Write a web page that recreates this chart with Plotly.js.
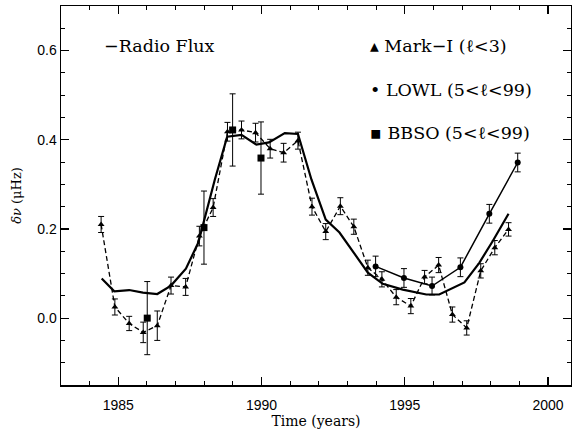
<!DOCTYPE html>
<html>
<head>
<meta charset="utf-8">
<script src="https://cdn.plot.ly/plotly-3.0.1.min.js"></script>
<style>html,body{margin:0;padding:0;background:#fff;}#chart{width:572px;height:433px;}</style>
</head>
<body>
<div id="chart"></div>
<script>
// Radio flux (solid thick line)
const radioYears = [1984.42, 1984.86, 1985.38, 1985.86, 1986.36, 1986.84, 1987.36, 1987.79, 1988.37, 1988.80, 1989.30, 1989.82, 1990.26, 1990.81, 1991.27, 1991.74, 1992.24, 1992.72, 1993.71, 1994.23, 1994.93, 1995.75, 1996.20, 1997.08, 1997.60, 1998.07, 1998.62];
const radioValues = [0.089, 0.060, 0.063, 0.057, 0.054, 0.073, 0.111, 0.169, 0.311, 0.407, 0.411, 0.389, 0.394, 0.415, 0.413, 0.311, 0.221, 0.192, 0.102, 0.077, 0.064, 0.053, 0.053, 0.080, 0.124, 0.173, 0.234];

// Mark-I (l<3), triangles, dashed line
const markYears = [1984.40, 1984.88, 1985.38, 1985.87, 1986.36, 1986.84, 1987.35, 1987.83, 1988.31, 1988.81, 1989.30, 1989.79, 1990.30, 1990.77, 1991.27, 1991.76, 1992.24, 1992.75, 1993.22, 1993.71, 1994.20, 1994.70, 1995.21, 1995.69, 1996.18, 1996.66, 1997.16, 1997.65, 1998.14, 1998.62];
const markValues = [0.210, 0.025, -0.012, -0.032, -0.017, 0.073, 0.070, 0.184, 0.248, 0.418, 0.422, 0.416, 0.380, 0.371, 0.398, 0.250, 0.194, 0.251, 0.205, 0.113, 0.087, 0.047, 0.027, 0.092, 0.119, 0.008, -0.022, 0.106, 0.158, 0.199];
const markErrors = [0.018, 0.018, 0.016, 0.023, 0.033, 0.019, 0.019, 0.022, 0.020, 0.021, 0.020, 0.021, 0.021, 0.021, 0.019, 0.019, 0.018, 0.019, 0.017, 0.017, 0.017, 0.017, 0.017, 0.015, 0.017, 0.017, 0.016, 0.016, 0.016, 0.015];

// LOWL (5<l<99), circles, solid line
const lowlYears = [1993.98, 1994.97, 1995.95, 1996.94, 1997.95, 1998.94];
const lowlValues = [0.116, 0.090, 0.072, 0.114, 0.234, 0.349];
const lowlErrors = [0.023, 0.021, 0.020, 0.021, 0.021, 0.021];

// BBSO (5<l<99), squares
const bbsoYears = [1986.01, 1987.99, 1988.99, 1989.98];
const bbsoValues = [0.000, 0.203, 0.422, 0.359];
const bbsoErrors = [0.082, 0.082, 0.081, 0.081];

const xTickVals = [1985, 1990, 1995, 2000];
const xTickText = ['1985', '1990', '1995', '2000'];
const yTickVals = [0.0, 0.2, 0.4, 0.6];
const yTickText = ['0.0', '0.2', '0.4', '0.6'];

const legendLabels = ['\u2212Radio Flux', '\u25B4 Mark\u2212I (\u2113<3)', '\u2022 LOWL (5<\u2113<99)', '\u25AA BBSO (5<\u2113<99)'];

const serif = 'DejaVu Serif, serif';
const sans = 'Liberation Sans, Arial, sans-serif';

const err = (arr) => ({type: 'data', array: arr, visible: true, color: '#000', thickness: 1, width: 3});

const traces = [
  {x: radioYears, y: radioValues, mode: 'lines', line: {color: '#000', width: 2.2}, hoverinfo: 'skip'},
  {x: markYears, y: markValues, mode: 'lines+markers', line: {color: '#000', width: 1.3, dash: '5px,3px'},
   marker: {symbol: 'triangle-up', size: 6, color: '#000'}, error_y: err(markErrors)},
  {x: lowlYears, y: lowlValues, mode: 'lines+markers', line: {color: '#000', width: 1.5},
   marker: {symbol: 'circle', size: 6, color: '#000'}, error_y: err(lowlErrors)},
  {x: bbsoYears, y: bbsoValues, mode: 'markers',
   marker: {symbol: 'square', size: 7, color: '#000'}, error_y: err(bbsoErrors)}
];

const axisCommon = {
  showgrid: false, zeroline: false, showline: true, linecolor: '#000', linewidth: 1.5,
  mirror: 'allticks', ticks: 'inside', ticklen: 8, tickwidth: 1.2, tickcolor: '#000',
  tickfont: {family: sans, size: 14, color: '#000'}
};

const layout = {
  width: 572, height: 433,
  margin: {l: 61, r: 1, t: 6, b: 47.5},
  paper_bgcolor: '#fff', plot_bgcolor: '#fff',
  showlegend: false,
  xaxis: Object.assign({}, axisCommon, {
    range: [1983, 2000.8], tickmode: 'array', tickvals: xTickVals, ticktext: xTickText,
    ticklabelstandoff: 7,
    minor: {dtick: 1, ticks: 'inside', ticklen: 4, tickwidth: 1, tickcolor: '#000', showgrid: false},
    title: {text: 'Time (years)', font: {family: serif, size: 14, color: '#000'}, standoff: 0}
  }),
  yaxis: Object.assign({}, axisCommon, {
    range: [-0.15, 0.70], tickmode: 'array', tickvals: yTickVals, ticktext: yTickText,
    minor: {dtick: 0.05, tick0: 0, ticks: 'inside', ticklen: 4, tickwidth: 1, tickcolor: '#000', showgrid: false},
    title: {text: '<i>\u03B4\u03BD</i> (\u03BCHz)', font: {family: serif, size: 13, color: '#000'}, standoff: 12}
  }),
  annotations: [
    {xref: 'paper', yref: 'paper', x: (102 - 61) / 510, y: (385.5 - 46) / 379.5, xanchor: 'left', yanchor: 'middle',
     text: legendLabels[0], showarrow: false, font: {family: serif, size: 17.5, color: '#000'}},
    {xref: 'paper', yref: 'paper', x: (368 - 61) / 510, y: (385.5 - 46) / 379.5, xanchor: 'left', yanchor: 'middle',
     text: legendLabels[1], showarrow: false, font: {family: serif, size: 17.5, color: '#000'}},
    {xref: 'paper', yref: 'paper', x: (368 - 61) / 510, y: (385.5 - 90) / 379.5, xanchor: 'left', yanchor: 'middle',
     text: legendLabels[2], showarrow: false, font: {family: serif, size: 17.5, color: '#000'}},
    {xref: 'paper', yref: 'paper', x: (368 - 61) / 510, y: (385.5 - 133) / 379.5, xanchor: 'left', yanchor: 'middle',
     text: legendLabels[3], showarrow: false, font: {family: serif, size: 17.5, color: '#000'}}
  ]
};

Plotly.newPlot('chart', traces, layout, {staticPlot: true, displayModeBar: false});
</script>
</body>
</html>
